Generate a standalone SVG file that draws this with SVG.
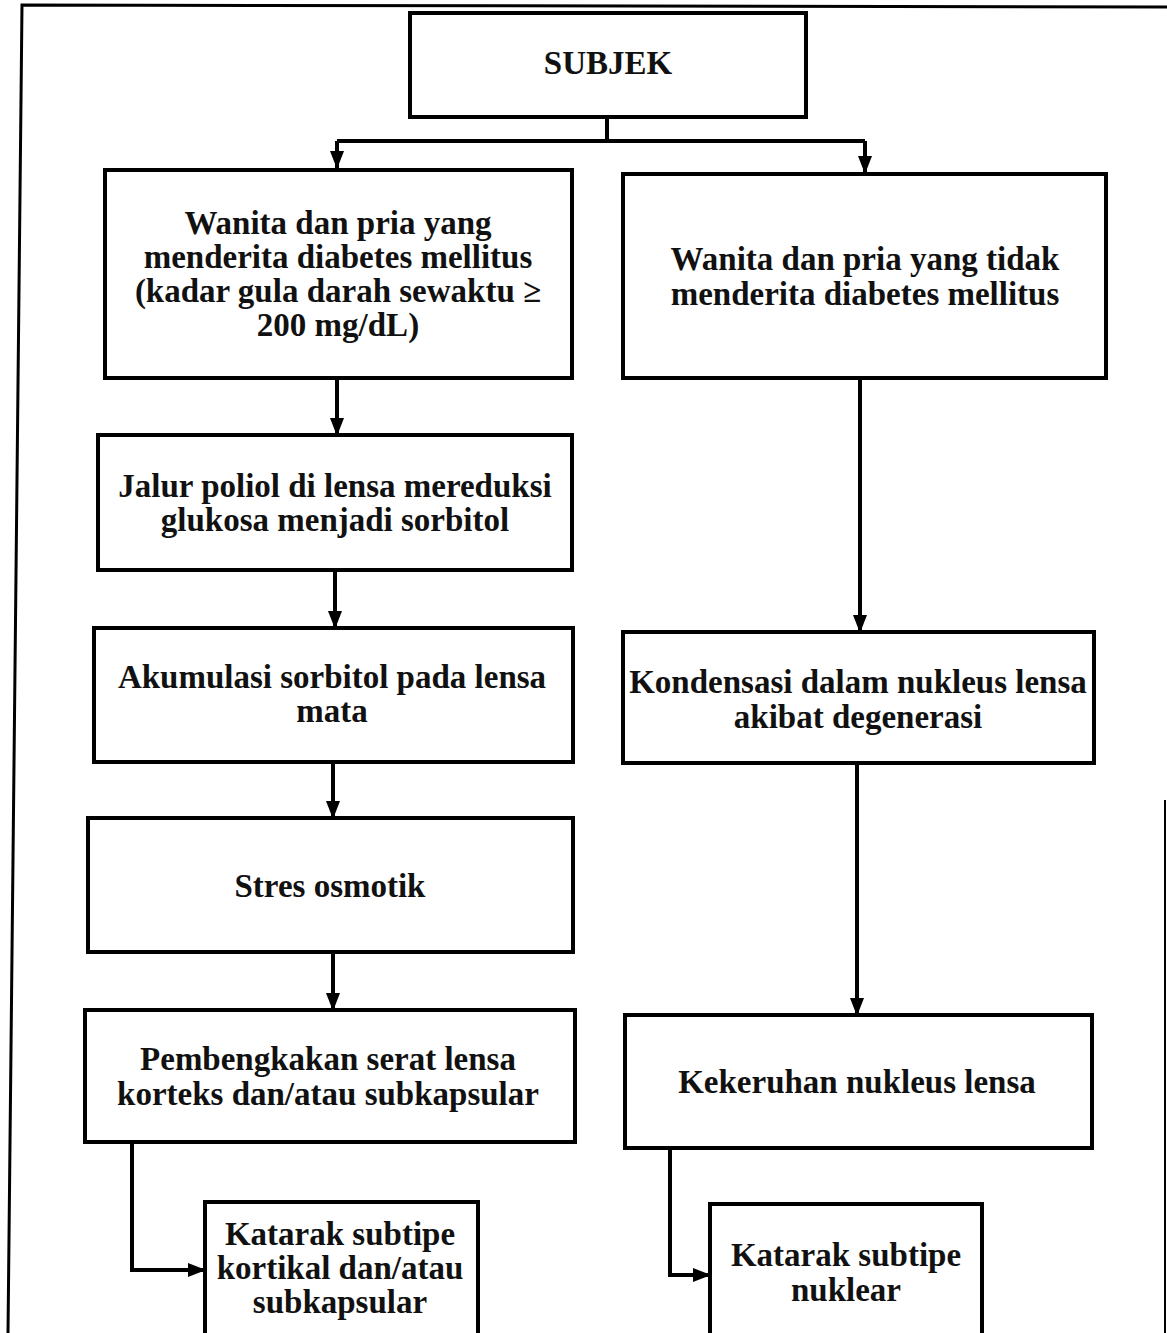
<svg xmlns="http://www.w3.org/2000/svg" width="1167" height="1333" viewBox="0 0 1167 1333">
<style>
  .box { fill: #fff; stroke: #000; stroke-width: 4; }
  .t { font-family: "Liberation Serif", "Times New Roman", serif; font-weight: bold; font-size: 33px; fill: #111; text-anchor: middle; }
  .c { fill: none; stroke: #000; stroke-width: 4; }
  .frame { fill: none; stroke: #000; stroke-width: 3; }
</style>
<defs>
  <marker id="ah" markerUnits="userSpaceOnUse" markerWidth="18" markerHeight="18" viewBox="0 0 18 18" refX="17" refY="9" orient="auto">
    <path d="M0,2 L18,9 L0,16 Z" fill="#000"/>
  </marker>
</defs>
<rect width="1167" height="1333" fill="#fff"/>
<g id="frame">
  <path class="frame" d="M1167,7 L22,5 L8,1333"/>
  <line x1="1165" y1="800" x2="1165" y2="1333" stroke="#000" stroke-width="2"/>
</g>
<g id="connectors">
  <path class="c" d="M607,117 V141 M337,141 H865"/>
  <path class="c" d="M337,141 V168" marker-end="url(#ah)"/>
  <path class="c" d="M865,141 V173" marker-end="url(#ah)"/>
  <path class="c" d="M337,378 V435" marker-end="url(#ah)"/>
  <path class="c" d="M335,570 V628" marker-end="url(#ah)"/>
  <path class="c" d="M333,762 V818" marker-end="url(#ah)"/>
  <path class="c" d="M333,952 V1010" marker-end="url(#ah)"/>
  <path class="c" d="M132,1142 V1270 H205" marker-end="url(#ah)"/>
  <path class="c" d="M860,378 V632" marker-end="url(#ah)"/>
  <path class="c" d="M857,763 V1015" marker-end="url(#ah)"/>
  <path class="c" d="M670,1148 V1275 H710" marker-end="url(#ah)"/>
</g>
<g id="subjek">
  <rect class="box" x="410" y="13" width="396" height="104"/>
  <text class="t" x="608" y="74" font-size="30">SUBJEK</text>
</g>
<g id="dm">
  <rect class="box" x="105" y="170" width="467" height="208"/>
  <text class="t" x="338" y="234">Wanita dan pria yang</text>
  <text class="t" x="338" y="268">menderita diabetes mellitus</text>
  <text class="t" x="338" y="302">(kadar gula darah sewaktu ≥</text>
  <text class="t" x="338" y="336">200 mg/dL)</text>
</g>
<g id="nondm">
  <rect class="box" x="623" y="174" width="483" height="204"/>
  <text class="t" x="865" y="270">Wanita dan pria yang tidak</text>
  <text class="t" x="865" y="305">menderita diabetes mellitus</text>
</g>
<g id="poliol">
  <rect class="box" x="98" y="435" width="474" height="135"/>
  <text class="t" x="335" y="497">Jalur poliol di lensa mereduksi</text>
  <text class="t" x="335" y="531">glukosa menjadi sorbitol</text>
</g>
<g id="akumulasi">
  <rect class="box" x="94" y="628" width="479" height="134"/>
  <text class="t" x="332" y="688">Akumulasi sorbitol pada lensa</text>
  <text class="t" x="332" y="722">mata</text>
</g>
<g id="stres">
  <rect class="box" x="88" y="818" width="485" height="134"/>
  <text class="t" x="330" y="897">Stres osmotik</text>
</g>
<g id="pembengkakan">
  <rect class="box" x="85" y="1010" width="490" height="132"/>
  <text class="t" x="328" y="1070">Pembengkakan serat lensa</text>
  <text class="t" x="328" y="1105">korteks dan/atau subkapsular</text>
</g>
<g id="kortikal">
  <rect class="box" x="205" y="1202" width="273" height="140"/>
  <text class="t" x="340" y="1245">Katarak subtipe</text>
  <text class="t" x="340" y="1279">kortikal dan/atau</text>
  <text class="t" x="340" y="1313">subkapsular</text>
</g>
<g id="kondensasi">
  <rect class="box" x="623" y="632" width="471" height="131"/>
  <text class="t" x="858" y="693">Kondensasi dalam nukleus lensa</text>
  <text class="t" x="858" y="728">akibat degenerasi</text>
</g>
<g id="kekeruhan">
  <rect class="box" x="625" y="1015" width="467" height="133"/>
  <text class="t" x="857" y="1093">Kekeruhan nukleus lensa</text>
</g>
<g id="nuklear">
  <rect class="box" x="710" y="1204" width="272" height="140"/>
  <text class="t" x="846" y="1266">Katarak subtipe</text>
  <text class="t" x="846" y="1301">nuklear</text>
</g>
</svg>
